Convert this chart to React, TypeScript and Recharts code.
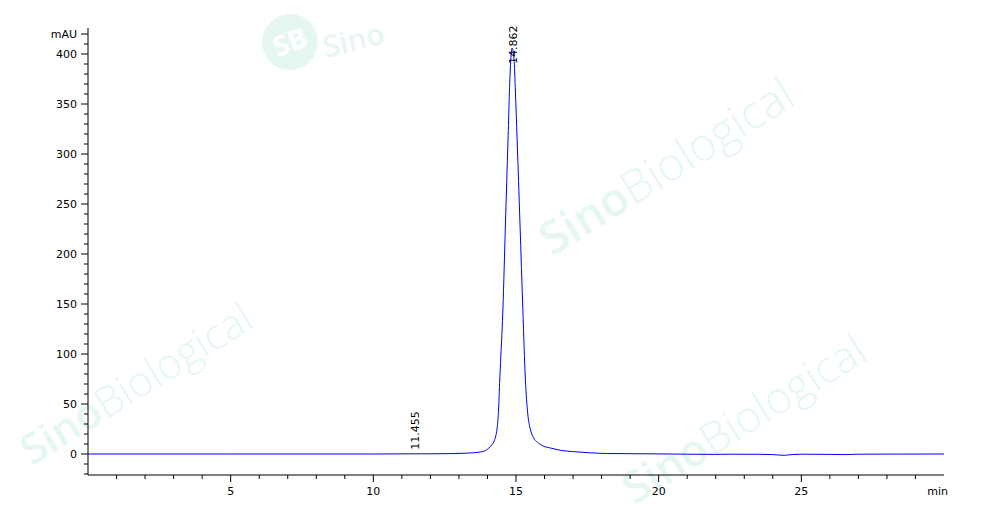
import React from 'react';
import { LineChart, Line, XAxis, YAxis, ReferenceDot } from 'recharts';

// retention time (min)
const times = [0, 5, 10, 11.455, 12, 12.8, 13.3, 13.7, 13.93, 14.05, 14.15, 14.22, 14.29, 14.34, 14.39, 14.43, 14.54, 14.63, 14.72, 14.8, 14.862, 14.93, 14.98, 15.04, 15.14, 15.24, 15.33, 15.41, 15.51, 15.62, 15.74, 15.95, 16.21, 16.6, 17.02, 17.6, 18.2, 19, 20, 21, 22, 22.6, 23.5, 24, 24.4, 24.7, 25, 26, 26.5, 27, 28, 30];
// absorbance (mAU)
const signal = [0, 0, 0, 0.2, 0.2, 0.4, 0.9, 1.8, 3.5, 6, 9, 12, 18, 26, 45, 74, 144, 230, 314, 385, 406, 395, 362, 314, 230, 144, 74, 41, 24, 16, 12, 8, 6, 3.5, 2.3, 1.2, 0.5, 0.3, 0.1, -0.2, -0.4, -0.2, -0.3, -0.6, -1.3, -0.5, -0.2, -0.4, -0.6, -0.2, -0.1, 0];

const peakTimes = [11.455, 14.862];
const peakHeights = [0.2, 406];

const yTicks = [-20, -10, 0, 10, 20, 30, 40, 50, 60, 70, 80, 90, 100, 110, 120, 130, 140, 150, 160, 170, 180, 190, 200, 210, 220, 230, 240, 250, 260, 270, 280, 290, 300, 310, 320, 330, 340, 350, 360, 370, 380, 390, 400, 410, 420];
const yMajorLabels = [0, 50, 100, 150, 200, 250, 300, 350, 400];
const yUnitTick = 420;
const xTicks = [0, 1, 2, 3, 4, 5, 6, 7, 8, 9, 10, 11, 12, 13, 14, 15, 16, 17, 18, 19, 20, 21, 22, 23, 24, 25, 26, 27, 28, 29, 30];
const xMajorLabels = [5, 10, 15, 20, 25];
const xUnitTick = 30;

const data = times.map((t, i) => ({ t, v: signal[i] }));

const FONT = '"DejaVu Sans", Verdana, sans-serif';
const PLOT_TOP = 28;

const YTick = (props: any) => {
  const { x, y, payload } = props;
  const v = payload.value;
  const isUnit = v === yUnitTick;
  const isMajor = yMajorLabels.includes(v) || isUnit;
  const label = isUnit ? 'mAU' : yMajorLabels.includes(v) ? String(v) : '';
  return (
    <g>
      <line x1={x - (isMajor ? 7 : 4)} x2={x} y1={y} y2={y} stroke="#000" strokeWidth={1} />
      {label && (
        <text x={x - 11} y={y + 4} textAnchor="end" fontFamily={FONT} fontSize={11} fill="#000">
          {label}
        </text>
      )}
    </g>
  );
};

const XTick = (props: any) => {
  const { x, y, payload } = props;
  const v = payload.value;
  if (v === 0) return <g />;
  if (v === xUnitTick) {
    return (
      <text x={x + 4} y={y + 20} textAnchor="end" fontFamily={FONT} fontSize={11} fill="#000">
        min
      </text>
    );
  }
  const isMajor = xMajorLabels.includes(v);
  return (
    <g>
      <line x1={x} x2={x} y1={y} y2={y + (isMajor ? 7 : 4)} stroke="#000" strokeWidth={1} />
      {isMajor && (
        <text x={x} y={y + 20} textAnchor="middle" fontFamily={FONT} fontSize={11} fill="#000">
          {String(v)}
        </text>
      )}
    </g>
  );
};

const makePeakLabel = (label: string) => (p: any) => {
  const { cx, cy } = p;
  const len = 37;
  const startY = Math.max(cy - 4, PLOT_TOP + len - 1);
  const bx = cx + 4.5;
  return (
    <text
      x={bx}
      y={startY}
      transform={`rotate(-90 ${bx} ${startY})`}
      textAnchor="start"
      fontFamily={FONT}
      fontSize={11}
      fill="#000"
    >
      {label}
    </text>
  );
};

const WM_COLOR = '#e6f7f0';

const Watermark = ({ cx, cy, size = 46 }: { cx: number; cy: number; size?: number }) => (
  <text
    x={cx}
    y={cy}
    textAnchor="middle"
    transform={`rotate(-32 ${cx} ${cy})`}
    fontFamily='"Open Sans", "Noto Sans", sans-serif'
    fontSize={size}
    fill={WM_COLOR}
  >
    <tspan fontWeight={600}>Sino</tspan>
    <tspan fontWeight={300}>Biological</tspan>
  </text>
);

export default function App() {
  return (
    <div style={{ position: 'absolute', left: 0, top: 0, width: 1000, height: 523, background: '#fff' }}>
      <svg width={1000} height={523} style={{ position: 'absolute', left: 0, top: 0 }}>
        <Watermark cx={675} cy={180} />
        <Watermark cx={144} cy={396} size={42} />
        <Watermark cx={752} cy={432} size={44} />
        <g transform="rotate(-20 290 42)">
          <circle cx={290} cy={42} r={28} fill={WM_COLOR} />
          <text x={290} y={52} textAnchor="middle" fontFamily='"Open Sans", sans-serif' fontWeight={700} fontSize={28} fill="#fff">
            SB
          </text>
        </g>
        <text
          x={326}
          y={58}
          transform="rotate(-14 326 58)"
          fontFamily='"Open Sans", sans-serif'
          fontWeight={600}
          fontSize={30}
          fill={WM_COLOR}
        >
          Sino
        </text>
      </svg>
      <div style={{ position: 'absolute', left: 0, top: 0 }}>
        <LineChart width={1000} height={523} data={data} margin={{ top: PLOT_TOP, right: 56, bottom: 0, left: 0 }}>
          <XAxis
            dataKey="t"
            type="number"
            domain={[0, 30]}
            ticks={xTicks}
            interval={0}
            height={48}
            tickSize={0}
            tickMargin={0}
            tickLine={false}
            axisLine={{ stroke: '#000', strokeWidth: 1 }}
            tick={<XTick />}
            allowDataOverflow
          />
          <YAxis
            type="number"
            domain={[-21, 426]}
            ticks={yTicks}
            interval={0}
            width={88}
            tickSize={0}
            tickMargin={0}
            tickLine={false}
            axisLine={{ stroke: '#000', strokeWidth: 1 }}
            tick={<YTick />}
            allowDataOverflow
          />
          <Line
            dataKey="v"
            type="monotone"
            stroke="#0000ff"
            strokeWidth={1}
            dot={false}
            isAnimationActive={false}
          />
          {peakTimes.map((t, i) => (
            <ReferenceDot
              key={t}
              x={t}
              y={peakHeights[i]}
              r={0}
              ifOverflow="visible"
              shape={makePeakLabel(t.toFixed(3))}
            />
          ))}
        </LineChart>
      </div>
    </div>
  );
}
